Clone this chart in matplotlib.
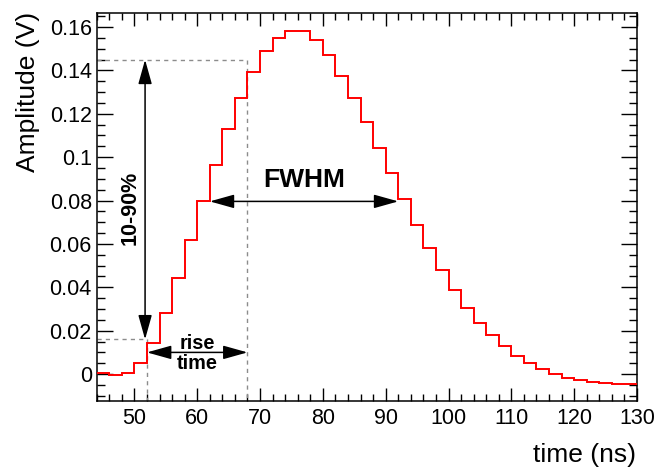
import matplotlib
matplotlib.use("Agg")
import matplotlib.pyplot as plt
from matplotlib.ticker import MultipleLocator, FuncFormatter

plt.rcParams['font.family'] = ['Liberation Sans', 'DejaVu Sans']

# histogram bin edges (ns) and amplitudes (V)
edges = list(range(44, 131, 2))
amplitude = [0.0003, -0.0002, 0.0005, 0.0049, 0.0142, 0.0280, 0.0443, 0.0619,
             0.0796, 0.0965, 0.1130, 0.1273, 0.1394, 0.1487, 0.1549, 0.1583,
             0.1581, 0.1540, 0.1473, 0.1376, 0.1273, 0.1161, 0.1042, 0.0926,
             0.0805, 0.0687, 0.0579, 0.0480, 0.0387, 0.0306, 0.0234, 0.0179,
             0.0129, 0.0085, 0.0052, 0.0023, 0.0001, -0.0017, -0.0028, -0.0037,
             -0.0043, -0.0046, -0.0046]

# annotation levels
t10, t90 = 52, 68
v10, v90 = 0.016, 0.1449
fwhm_t = [62, 92]
fwhm_v = 0.0796
rise_v = 0.0100

xmin, xmax = 44, 130
ymin, ymax = -0.0124, 0.1663

fig = plt.figure(figsize=(6.72, 4.68), dpi=100)
ax = fig.add_axes([96.7 / 672, 1 - 401 / 468, (637 - 96.7) / 672, (401 - 13.3) / 468])

ax.stairs(amplitude, edges, baseline=None, color='red', linewidth=1.4, zorder=3)

# dashed guide lines for 10% and 90%
gray = '#8c8c8c'
ax.plot([xmin, t90, t90], [v90, v90, ymin], color=gray, linestyle=(0, (3, 3)), linewidth=1.0)
ax.plot([xmin, t10, t10], [v10, v10, ymin], color=gray, linestyle=(0, (3, 3)), linewidth=1.0)

arrow = dict(arrowstyle='<|-|>,head_length=1.5,head_width=0.42', mutation_scale=10,
             color='black', linewidth=1.1, shrinkA=0, shrinkB=0)

# 10-90% vertical arrow
ax.annotate('', xy=(51.7, v10), xytext=(51.7, v90), arrowprops=arrow)
ax.text(49.3, 0.0767, '10-90%', rotation=90, ha='center', va='center',
        fontsize=15.5, fontweight='bold')

# rise time arrow
ax.annotate('', xy=(t10, rise_v), xytext=(t90, rise_v), arrowprops=arrow)
ax.text(60, 0.0143, 'rise', ha='center', va='center', fontsize=14.3, fontweight='bold')
ax.text(60, 0.0051, 'time', ha='center', va='center', fontsize=14.3, fontweight='bold')

# FWHM arrow
ax.annotate('', xy=(fwhm_t[0], fwhm_v), xytext=(fwhm_t[1], fwhm_v), arrowprops=arrow)
ax.text(77, 0.0893, 'FWHM', ha='center', va='center', fontsize=19, fontweight='bold')

ax.set_xlim(xmin, xmax)
ax.set_ylim(ymin, ymax)

ax.xaxis.set_major_locator(MultipleLocator(10))
ax.xaxis.set_minor_locator(MultipleLocator(2))
ax.yaxis.set_major_locator(MultipleLocator(0.02))
ax.yaxis.set_minor_locator(MultipleLocator(0.005))
ax.yaxis.set_major_formatter(FuncFormatter(lambda v, p: f'{round(v, 3):g}'))

ax.tick_params(which='both', direction='in', top=True, right=True, labelsize=15.5, width=1.0)
ax.tick_params(axis='x', which='major', length=9.5, pad=5)
ax.tick_params(axis='x', which='minor', length=4.7)
ax.tick_params(axis='y', which='major', length=11.5, pad=3.5)
ax.tick_params(axis='y', which='minor', length=5.8)
for s in ax.spines.values():
    s.set_linewidth(1.1)

fig.text(636 / 672, 1 - 455 / 468, 'time (ns)', ha='right', va='center', fontsize=19)
fig.text(28 / 672, 1 - 12 / 468, 'Amplitude (V)', ha='center', va='top', rotation=90, fontsize=19)

fig.savefig('out.png', dpi=100)
